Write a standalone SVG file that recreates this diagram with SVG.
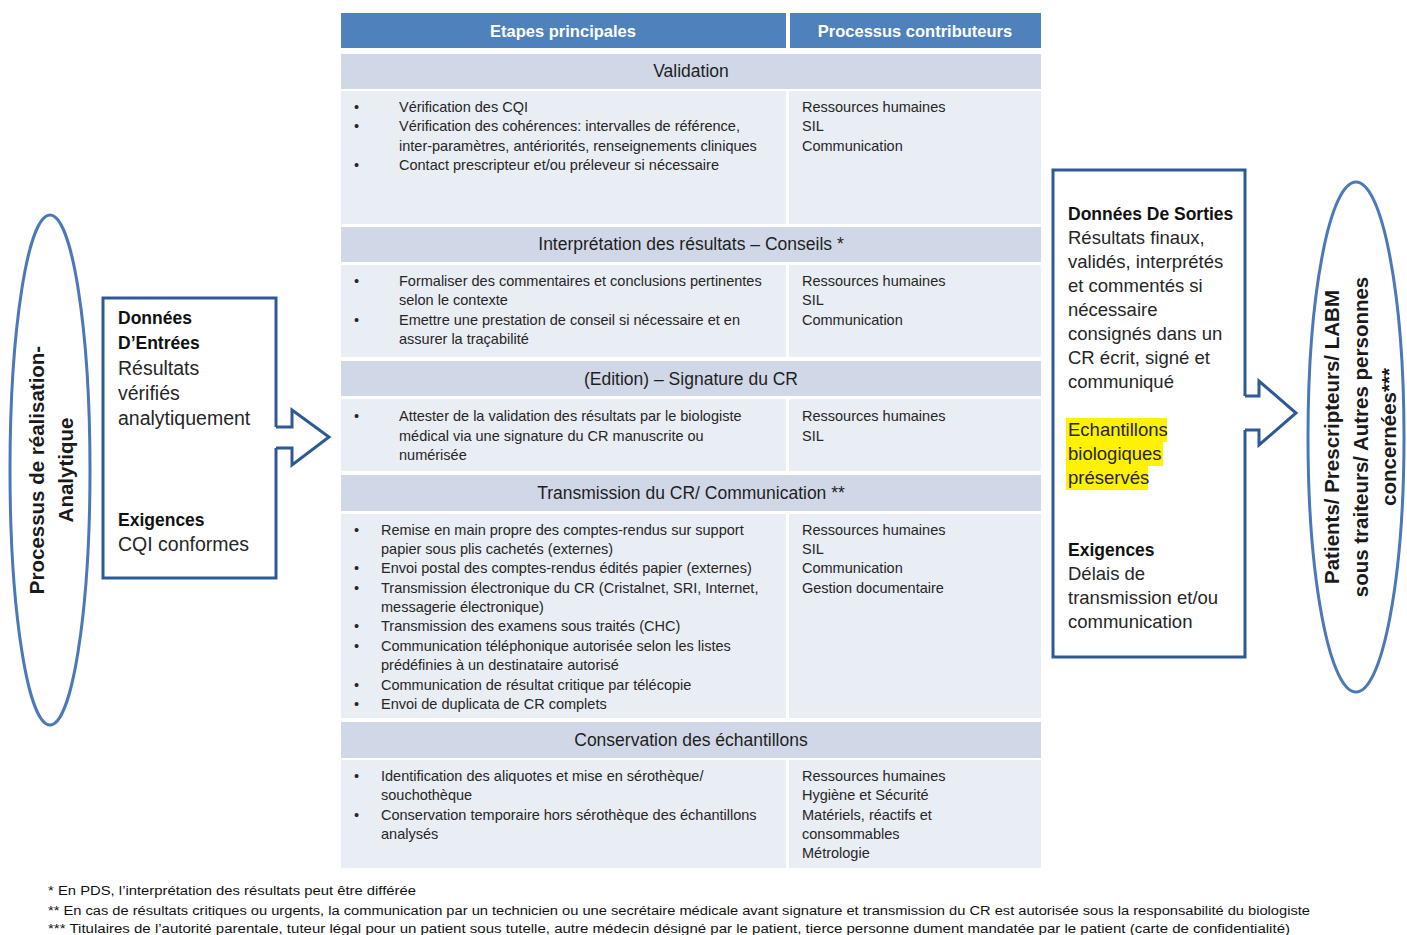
<svg xmlns="http://www.w3.org/2000/svg" width="1407" height="935" viewBox="0 0 1407 935">
<style>
text{font-family:"Liberation Sans",Arial,sans-serif;}
.hd{fill:#4F81BD;}
.sec{fill:#D0D8E8;}
.cell{fill:#E9EDF4;}
.hdt{font-size:16.5px;font-weight:bold;fill:#fff;text-anchor:middle;}
.st{font-size:17.5px;fill:#1e1e1e;text-anchor:middle;}
.ct{font-size:14.5px;fill:#262626;}
.bt{font-size:18.5px;fill:#262626;}
.lb{font-size:19.5px;}
.bb{font-weight:bold;fill:#111;font-size:17.5px;}
.el{fill:#fff;stroke:#4A78B8;stroke-width:3;}
.bx{fill:none;stroke:#2E5A94;stroke-width:3;stroke-linejoin:miter;}
.vt{font-size:20.5px;font-weight:bold;fill:#1a1a1a;text-anchor:middle;}
.fn{font-size:12.5px;fill:#111;}
.hl{fill:#FFF200;}
</style>
<rect width="1407" height="935" fill="#fff"/>

<g id="table">
  <rect class="hd" x="341" y="13" width="445" height="35"/>
  <rect class="hd" x="790" y="13" width="251" height="35"/>
  <text class="hdt" x="563" y="37">Etapes principales</text>
  <text class="hdt" x="915" y="37">Processus contributeurs</text>
</g>

<g id="validation">
  <rect class="sec" x="341" y="54" width="700" height="35"/>
  <text class="st" x="691" y="77">Validation</text>
  <rect class="cell" x="341" y="91" width="445" height="133"/>
  <rect class="cell" x="789" y="91" width="252" height="133"/>
  <g class="ct">
    <text x="354" y="112">•</text><text x="399" y="112">Vérification des CQI</text>
    <text x="354" y="131">•</text><text x="399" y="131">Vérification des cohérences: intervalles de référence,</text>
    <text x="399" y="151">inter-paramètres, antériorités, renseignements cliniques</text>
    <text x="354" y="170">•</text><text x="399" y="170">Contact prescripteur et/ou préleveur si nécessaire</text>
    <text x="802" y="112">Ressources humaines</text>
    <text x="802" y="131">SIL</text>
    <text x="802" y="151">Communication</text>
  </g>
</g>

<g id="interpretation">
  <rect class="sec" x="341" y="227" width="700" height="35"/>
  <text class="st" x="691" y="250">Interprétation des résultats – Conseils *</text>
  <rect class="cell" x="341" y="265" width="445" height="92"/>
  <rect class="cell" x="789" y="265" width="252" height="92"/>
  <g class="ct">
    <text x="354" y="286">•</text><text x="399" y="286">Formaliser des commentaires et conclusions pertinentes</text>
    <text x="399" y="305">selon le contexte</text>
    <text x="354" y="325">•</text><text x="399" y="325">Emettre une prestation de conseil si nécessaire et en</text>
    <text x="399" y="344">assurer la traçabilité</text>
    <text x="802" y="286">Ressources humaines</text>
    <text x="802" y="305">SIL</text>
    <text x="802" y="325">Communication</text>
  </g>
</g>

<g id="signature">
  <rect class="sec" x="341" y="361" width="700" height="35"/>
  <text class="st" x="691" y="385">(Edition) – Signature du CR</text>
  <rect class="cell" x="341" y="399" width="445" height="72"/>
  <rect class="cell" x="789" y="399" width="252" height="72"/>
  <g class="ct">
    <text x="354" y="421">•</text><text x="399" y="421">Attester de la validation des résultats par le biologiste</text>
    <text x="399" y="441">médical via une signature du CR manuscrite ou</text>
    <text x="399" y="460">numérisée</text>
    <text x="802" y="421">Ressources humaines</text>
    <text x="802" y="441">SIL</text>
  </g>
</g>

<g id="transmission">
  <rect class="sec" x="341" y="475" width="700" height="36"/>
  <text class="st" x="691" y="499">Transmission du CR/ Communication **</text>
  <rect class="cell" x="341" y="514" width="445" height="204"/>
  <rect class="cell" x="789" y="514" width="252" height="204"/>
  <g class="ct">
    <text x="354" y="535">•</text><text x="381" y="535">Remise en main propre des comptes-rendus sur support</text>
    <text x="381" y="554">papier sous plis cachetés (externes)</text>
    <text x="354" y="573">•</text><text x="381" y="573">Envoi postal des comptes-rendus édités papier (externes)</text>
    <text x="354" y="593">•</text><text x="381" y="593">Transmission électronique du CR (Cristalnet, SRI, Internet,</text>
    <text x="381" y="612">messagerie électronique)</text>
    <text x="354" y="631">•</text><text x="381" y="631">Transmission des examens sous traités  (CHC)</text>
    <text x="354" y="651">•</text><text x="381" y="651">Communication téléphonique autorisée selon les listes</text>
    <text x="381" y="670">prédéfinies à un destinataire autorisé</text>
    <text x="354" y="690">•</text><text x="381" y="690">Communication de résultat critique par télécopie</text>
    <text x="354" y="709">•</text><text x="381" y="709">Envoi de duplicata de CR complets</text>
    <text x="802" y="535">Ressources humaines</text>
    <text x="802" y="554">SIL</text>
    <text x="802" y="573">Communication</text>
    <text x="802" y="593">Gestion documentaire</text>
  </g>
</g>

<g id="conservation">
  <rect class="sec" x="341" y="722" width="700" height="36"/>
  <text class="st" x="691" y="746">Conservation des échantillons</text>
  <rect class="cell" x="341" y="760" width="445" height="108"/>
  <rect class="cell" x="789" y="760" width="252" height="108"/>
  <g class="ct">
    <text x="354" y="781">•</text><text x="381" y="781">Identification des aliquotes et mise en sérothèque/</text>
    <text x="381" y="800">souchothèque</text>
    <text x="354" y="820">•</text><text x="381" y="820">Conservation temporaire hors sérothèque des échantillons</text>
    <text x="381" y="839">analysés</text>
    <text x="802" y="781">Ressources humaines</text>
    <text x="802" y="800">Hygiène et Sécurité</text>
    <text x="802" y="820">Matériels, réactifs et</text>
    <text x="802" y="839">consommables</text>
    <text x="802" y="858">Métrologie</text>
  </g>
</g>

<g id="process-left">
  <ellipse class="el" cx="50" cy="470" rx="40" ry="255"/>
  <g transform="translate(51,470) rotate(-90)">
    <text class="vt" x="0" y="-7">Processus de réalisation-</text>
    <text class="vt" x="0" y="22">Analytique</text>
  </g>
</g>

<g id="input-box">
  <path class="bx" d="M276,427 V298 H103 V578 H276 V448"/>
  <g class="bt lb">
    <text class="bb" x="118" y="324">Données</text>
    <text class="bb" x="118" y="349">D’Entrées</text>
    <text x="118" y="375">Résultats</text>
    <text x="118" y="400">vérifiés</text>
    <text x="118" y="425">analytiquement</text>
    <text class="bb" x="118" y="526">Exigences</text>
    <text x="118" y="551">CQI conformes</text>
  </g>
</g>

<g id="output-box">
  <path class="bx" d="M1245,396 V170 H1053 V657 H1245 V430"/>
  <rect class="hl" x="1066" y="418" width="101" height="24"/>
  <rect class="hl" x="1066" y="442" width="97" height="24"/>
  <rect class="hl" x="1066" y="466" width="82" height="24"/>
  <g class="bt">
    <text class="bb" x="1068" y="220">Données De Sorties</text>
    <text x="1068" y="244">Résultats finaux,</text>
    <text x="1068" y="268">validés, interprétés</text>
    <text x="1068" y="292">et commentés si</text>
    <text x="1068" y="316">nécessaire</text>
    <text x="1068" y="340">consignés dans un</text>
    <text x="1068" y="364">CR écrit, signé et</text>
    <text x="1068" y="388">communiqué</text>
    <text x="1068" y="436">Echantillons</text>
    <text x="1068" y="460">biologiques</text>
    <text x="1068" y="484">préservés</text>
    <text class="bb" x="1068" y="556">Exigences</text>
    <text x="1068" y="580">Délais de</text>
    <text x="1068" y="604">transmission et/ou</text>
    <text x="1068" y="628">communication</text>
  </g>
</g>

<g id="process-right">
  <ellipse class="el" cx="1356" cy="437" rx="48" ry="255"/>
  <g transform="translate(1361,437) rotate(-90)">
    <text class="vt" x="0" y="-22">Patients/ Prescripteurs/ LABM</text>
    <text class="vt" x="0" y="7">sous traiteurs/ Autres personnes</text>
    <text class="vt" x="0" y="35">concernées***</text>
  </g>
</g>

<g id="connectors">
  <path class="bx" d="M276,427 H292 V410 L329,437 L292,465 V448 H276"/>
  <path class="bx" d="M1245,396 H1259 V381 L1296,413 L1259,445 V430 H1245"/>
</g>

<g id="footnotes">
  <text class="fn" x="48" y="895" textLength="368" lengthAdjust="spacingAndGlyphs">* En PDS, l’interprétation des résultats peut être différée</text>
  <text class="fn" x="48" y="915" textLength="1262" lengthAdjust="spacingAndGlyphs">** En cas de résultats critiques ou urgents, la communication par un technicien ou une secrétaire médicale avant signature et transmission du CR est autorisée sous la responsabilité du biologiste</text>
  <text class="fn" x="48" y="933" textLength="1242" lengthAdjust="spacingAndGlyphs">*** Titulaires de l’autorité parentale, tuteur légal pour un patient sous tutelle, autre médecin désigné par le patient, tierce personne dument mandatée par le patient (carte de confidentialité)</text>
</g>
</svg>
